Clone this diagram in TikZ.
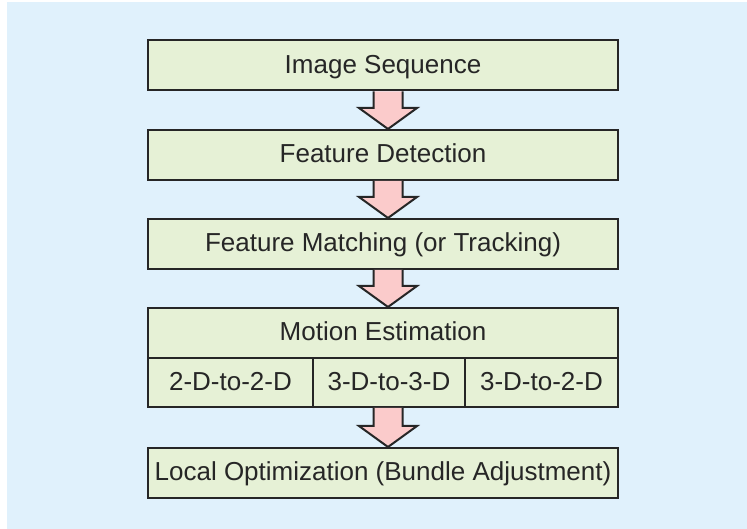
\documentclass[tikz,border=0pt]{standalone}
\usepackage{fontspec}
\setmainfont{Liberation Sans}
\usetikzlibrary{calc}
\definecolor{bgblue}{HTML}{E0F1FC}
\definecolor{boxgreen}{HTML}{E6F1D6}
\definecolor{arrpink}{HTML}{FBCBCB}
\definecolor{ink}{HTML}{262626}
\tikzset{
  box/.style={draw=ink, fill=boxgreen, line width=2pt, minimum height=50pt, inner sep=0pt, text=ink, font=\fontsize{26}{30}\selectfont, text height=18.6pt, text depth=3pt},
  blockarr/.style={draw=ink, fill=arrpink, line width=2pt, line join=miter},
}
\newcommand{\blockarrow}[2]{%
  \draw[blockarr] let \p1=(#1.south), \p2=(#2.north) in
    (\x1+5pt-14.5pt,\y1) -- (\x1+5pt-14.5pt,\y2+21pt) -- (\x1+5pt-29pt,\y2+21pt)
    -- (\x1+5pt,\y2) -- (\x1+5pt+29pt,\y2+21pt) -- (\x1+5pt+14.5pt,\y2+21pt)
    -- (\x1+5pt+14.5pt,\y1);}
\begin{document}
\begin{tikzpicture}[x=1pt,y=1pt]
\useasboundingbox (0,0) rectangle (747,529);
\fill[white] (0,0) rectangle (747,529);
\fill[bgblue] (7,0) rectangle (747,527);
\node[box, minimum width=470pt] (b1) at (383,463.5) {Image Sequence};
\node[box, minimum width=470pt] (b2) at (383,374) {Feature Detection};
\node[box, minimum width=470pt] (b3) at (383,285) {Feature Matching (or Tracking)};
\node[box, minimum width=470pt] (b4) at (383,196) {Motion Estimation};
\node[box, minimum width=165pt, minimum height=49pt] (c1) at (230.5,146.5) {2-D-to-2-D};
\node[box, minimum width=152pt, minimum height=49pt] (c2) at (389,146.5) {3-D-to-3-D};
\node[box, minimum width=153pt, minimum height=49pt] (c3) at (541.5,146.5) {3-D-to-2-D};
\node[box, minimum width=470pt] (b5) at (383,56) {Local Optimization (Bundle Adjustment)};
\blockarrow{b1}{b2}
\blockarrow{b2}{b3}
\blockarrow{b3}{b4}
\draw[blockarr] let \p1=(c2.south), \p2=(b5.north) in
    (388pt-14.5pt,\y1) -- (388pt-14.5pt,\y2+21pt) -- (388pt-29pt,\y2+21pt)
    -- (388pt,\y2) -- (388pt+29pt,\y2+21pt) -- (388pt+14.5pt,\y2+21pt)
    -- (388pt+14.5pt,\y1);
\end{tikzpicture}
\end{document}
